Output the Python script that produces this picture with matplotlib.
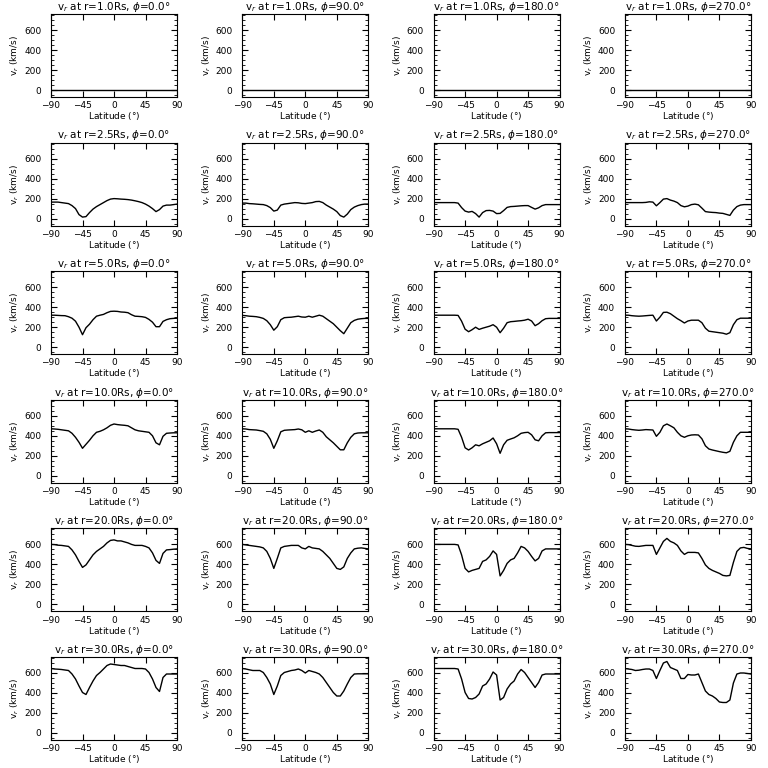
import numpy as np
import matplotlib.pyplot as plt
from matplotlib.ticker import MultipleLocator

# latitude grid (deg), shared by every panel
lat = np.arange(-90, 91, 5)

radii = [1.0, 2.5, 5.0, 10.0, 20.0, 30.0]
phis = [0.0, 90.0, 180.0, 270.0]

# r = 1.0 Rs: flat zero everywhere
v_r1 = [0] * 37

# r = 2.5 Rs
v_r25_p0 = [165, 165, 165, 160, 155, 150, 130, 100, 40, 15, 20, 60, 95, 120, 140, 160, 180, 195, 200,
            198, 195, 193, 190, 185, 178, 170, 160, 145, 125, 100, 70, 90, 125, 135, 135, 140, 145]
v_r25_p90 = [155, 155, 150, 148, 145, 142, 140, 130, 110, 75, 85, 135, 145, 150, 155, 160, 158, 152, 150,
             155, 160, 170, 172, 160, 135, 115, 95, 70, 30, 15, 45, 90, 115, 130, 140, 145, 145]
v_r25_p180 = [160, 160, 160, 160, 160, 160, 160, 155, 110, 75, 65, 72, 50, 15, 60, 80, 82, 75, 50,
              52, 80, 112, 120, 122, 125, 128, 130, 130, 112, 95, 108, 130, 140, 140, 140, 140, 140]
v_r25_p270 = [160, 160, 160, 160, 160, 160, 162, 168, 165, 128, 160, 195, 200, 185, 175, 160, 130, 118, 125,
              140, 145, 138, 105, 70, 65, 62, 60, 55, 52, 42, 32, 85, 120, 135, 140, 140, 140]

# r = 5.0 Rs
v_r5_p0 = [320, 320, 318, 316, 315, 305, 290, 260, 200, 125, 195, 230, 275, 310, 320, 328, 345, 358, 360,
           358, 352, 350, 345, 325, 310, 308, 305, 298, 278, 250, 205, 205, 258, 275, 285, 288, 290]
v_r5_p90 = [318, 315, 310, 308, 305, 298, 288, 265, 225, 170, 205, 275, 295, 298, 300, 305, 310, 302, 300,
            310, 300, 310, 320, 310, 285, 260, 235, 200, 165, 135, 190, 245, 268, 280, 285, 288, 288]
v_r5_p180 = [320, 320, 320, 320, 320, 320, 320, 318, 260, 180, 155, 175, 200, 178, 190, 200, 210, 225, 200,
             145, 190, 245, 255, 258, 262, 265, 270, 280, 262, 215, 235, 265, 285, 288, 288, 288, 288]
v_r5_p270 = [320, 320, 315, 312, 310, 312, 315, 318, 320, 262, 300, 348, 350, 335, 310, 285, 265, 242, 262,
             270, 270, 270, 245, 190, 160, 155, 150, 145, 140, 130, 145, 225, 275, 290, 290, 290, 290]

# r = 10.0 Rs
v_r10_p0 = [470, 468, 465, 460, 455, 450, 425, 385, 335, 275, 315, 355, 400, 435, 445, 460, 480, 505, 518,
            512, 508, 505, 500, 480, 460, 450, 445, 440, 435, 400, 330, 310, 395, 425, 428, 430, 430]
v_r10_p90 = [470, 468, 462, 460, 458, 452, 445, 420, 365, 275, 350, 440, 455, 458, 460, 462, 468, 460, 435,
             450, 435, 448, 458, 435, 390, 360, 330, 295, 260, 260, 330, 385, 420, 428, 430, 430, 430]
v_r10_p180 = [470, 470, 470, 470, 470, 470, 470, 465, 385, 280, 258, 280, 310, 300, 320, 335, 350, 378, 320,
              225, 310, 355, 368, 380, 400, 425, 432, 435, 410, 360, 350, 400, 430, 432, 432, 432, 432]
v_r10_p270 = [470, 468, 462, 458, 455, 458, 462, 460, 458, 395, 435, 500, 518, 500, 480, 435, 400, 385, 400,
              408, 410, 408, 370, 300, 268, 258, 250, 242, 235, 230, 245, 335, 400, 435, 435, 435, 435]

# r = 20.0 Rs
v_r20_p0 = [600, 598, 592, 590, 585, 580, 545, 495, 430, 370, 395, 445, 495, 530, 555, 580, 615, 640, 645,
            635, 635, 625, 615, 600, 590, 590, 590, 580, 565, 515, 440, 410, 510, 545, 548, 552, 555]
v_r20_p90 = [600, 595, 590, 585, 580, 575, 565, 530, 460, 360, 460, 565, 580, 585, 590, 590, 590, 565, 555,
             580, 565, 560, 555, 530, 495, 460, 410, 360, 350, 375, 460, 515, 555, 562, 565, 560, 555]
v_r20_p180 = [600, 600, 600, 600, 600, 600, 600, 595, 495, 360, 325, 340, 350, 360, 430, 445, 480, 535, 500,
              285, 340, 410, 445, 460, 515, 580, 565, 530, 480, 435, 460, 535, 555, 555, 555, 555, 555]
v_r20_p270 = [600, 598, 590, 582, 580, 585, 590, 590, 590, 500, 565, 630, 660, 630, 615, 590, 535, 500, 520,
              520, 520, 515, 460, 395, 360, 340, 325, 310, 290, 285, 290, 420, 530, 565, 570, 560, 555]

# r = 30.0 Rs
v_r30_p0 = [645, 640, 638, 635, 630, 625, 590, 540, 470, 405, 385, 455, 520, 575, 605, 640, 675, 690, 685,
            680, 675, 675, 665, 655, 645, 645, 645, 640, 605, 540, 455, 415, 555, 590, 590, 590, 590]
v_r30_p90 = [645, 640, 632, 625, 625, 625, 605, 555, 490, 385, 470, 575, 605, 615, 625, 630, 640, 625, 600,
             625, 615, 605, 590, 555, 505, 455, 405, 370, 370, 420, 490, 555, 590, 592, 592, 592, 592]
v_r30_p180 = [645, 645, 645, 645, 645, 645, 645, 640, 540, 405, 345, 340, 355, 390, 470, 490, 540, 610, 580,
              330, 355, 440, 490, 520, 590, 635, 605, 555, 505, 455, 505, 580, 590, 590, 590, 590, 590]
v_r30_p270 = [645, 640, 635, 625, 628, 635, 640, 640, 625, 545, 625, 700, 715, 655, 640, 625, 545, 545, 585,
              580, 580, 590, 505, 420, 385, 370, 345, 310, 305, 305, 330, 500, 590, 600, 600, 595, 590]

panels = [
    [v_r1, v_r1, v_r1, v_r1],
    [v_r25_p0, v_r25_p90, v_r25_p180, v_r25_p270],
    [v_r5_p0, v_r5_p90, v_r5_p180, v_r5_p270],
    [v_r10_p0, v_r10_p90, v_r10_p180, v_r10_p270],
    [v_r20_p0, v_r20_p90, v_r20_p180, v_r20_p270],
    [v_r30_p0, v_r30_p90, v_r30_p180, v_r30_p270],
]

W = H = 768.0
fig = plt.figure(figsize=(7.68, 7.68), dpi=100)

for i, r in enumerate(radii):
    for j, phi in enumerate(phis):
        left = (51 + 191.3 * j) / W
        top = (14 + 128.6 * i) / H
        ax = fig.add_axes([left, 1 - top - 83 / H, 126 / W, 83 / H])
        ax.plot(lat, panels[i][j], color='black', lw=1.0)
        ax.set_xlim(-90, 90)
        ax.set_ylim(-70, 760)
        ax.set_xticks([-90, -45, 0, 45, 90])
        ax.set_yticks([0, 200, 400, 600])
        ax.yaxis.set_minor_locator(MultipleLocator(50))
        ax.tick_params(which='both', direction='in', top=True, right=True, labelsize=6.5)
        ax.tick_params(axis='x', pad=3)
        ax.tick_params(axis='y', pad=7)
        ax.tick_params(which='major', length=4, width=0.8)
        ax.tick_params(which='minor', length=2, width=0.6)
        for s in ax.spines.values():
            s.set_linewidth(0.8)
        ax.set_title(r'v$_r$ at r=%.1fRs, $\phi$=%.1f$\degree$' % (r, phi),
                     fontsize=7.5, pad=3)
        ax.set_ylabel('v$_r$ (km/s)', fontsize=6.5, labelpad=2)
        ax.set_xlabel('Latitude ($\\degree$)', fontsize=6.5, labelpad=0)

fig.savefig('out.png', dpi=100, facecolor='white')
